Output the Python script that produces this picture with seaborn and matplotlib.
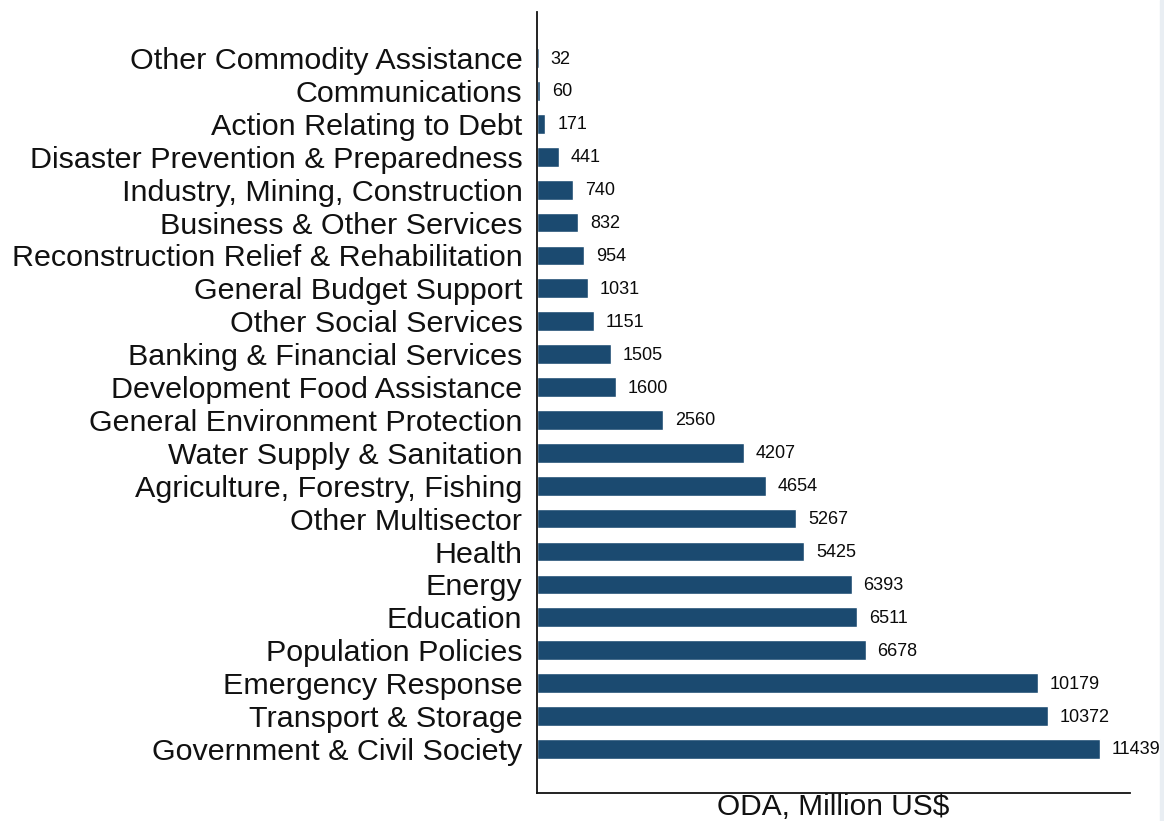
import matplotlib
matplotlib.use("Agg")
import matplotlib.pyplot as plt
import seaborn as sns
import pandas as pd
from matplotlib.patches import Rectangle

sectors = [
    "Other Commodity Assistance",
    "Communications",
    "Action Relating to Debt",
    "Disaster Prevention & Preparedness",
    "Industry, Mining, Construction",
    "Business & Other Services",
    "Reconstruction Relief & Rehabilitation",
    "General Budget Support",
    "Other Social Services",
    "Banking & Financial Services",
    "Development Food Assistance",
    "General Environment Protection",
    "Water Supply & Sanitation",
    "Agriculture, Forestry, Fishing",
    "Other Multisector",
    "Health",
    "Energy",
    "Education",
    "Population Policies",
    "Emergency Response",
    "Transport & Storage",
    "Government & Civil Society",
]
oda = [32, 60, 171, 441, 740, 832, 954, 1031, 1151, 1505, 1600, 2560,
       4207, 4654, 5267, 5425, 6393, 6511, 6678, 10179, 10372, 11439]

df = pd.DataFrame({"sector": sectors, "oda": oda})

sns.set_style("white")
plt.rcParams["font.family"] = ["Liberation Sans", "DejaVu Sans"]

fig = plt.figure(figsize=(11.64, 8.21), dpi=100)
ax = fig.add_axes([537 / 1164, 1 - 793 / 821, (1130 - 537) / 1164, (793 - 12) / 821])

sns.barplot(data=df, x="oda", y="sector", order=sectors, color="#1b4a70",
            saturation=1, width=0.6, ax=ax)

ax.set_xlim(0, 12048)
ax.set_ylim(22.34, -1.4)

for i, v in enumerate(oda):
    ax.text(v + 240, i + 0.03, f"{v}", va="center", ha="left", fontsize=13, color="#0a0a0a")

ax.set_ylabel("")
ax.set_xlabel("ODA, Million US$", fontsize=21.5, labelpad=0, color="#111111")
ax.set_xticks([])
ax.tick_params(axis="y", length=0, labelsize=21.95, pad=10.5)
for lbl in ax.get_yticklabels():
    lbl.set_color("#111111")

for side in ["top", "right"]:
    ax.spines[side].set_visible(False)
for side in ["left", "bottom"]:
    ax.spines[side].set_color("#111111")
    ax.spines[side].set_linewidth(1.3)

# thin strip along the right edge of the page
fig.patches.append(Rectangle((1160 / 1164, 0), 4 / 1164, 1, transform=fig.transFigure,
                             color="#e9eef3", zorder=0))

fig.savefig("out.png", dpi=100)
